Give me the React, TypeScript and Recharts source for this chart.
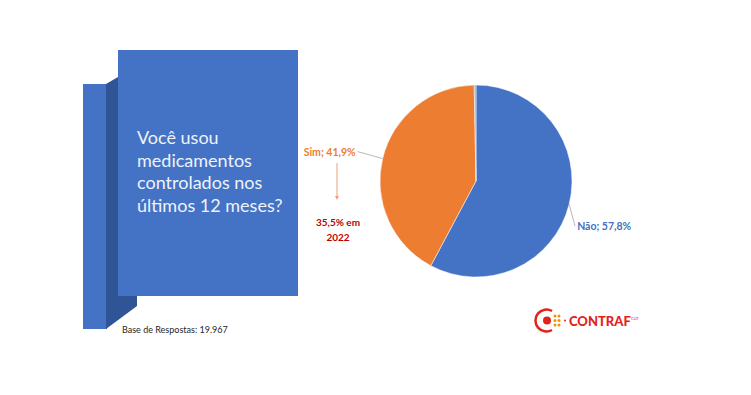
import { PieChart, Pie, Cell } from "recharts";

const categories = ["Não", "Sim", "Não sabe"];
const values = [57.8, 41.9, 0.3];
const colors = ["#4472C4", "#ED7D31", "#A5A5A5"];
const labelColors = ["#4472C4", "#ED7D31", "#A5A5A5"];
const titleLines = ["Você usou", "medicamentos", "controlados nos", "últimos 12 meses?"];
const note2022 = ["35,5% em", "2022"];
const baseText = "Base de Respostas: 19.967";

const data = categories.map((name, i) => ({ name, value: values[i] }));

const RAD = Math.PI / 180;
const fmt = (v: number) => v.toFixed(1).replace(".", ",") + "%";

const renderLabel = (props: any) => {
    const { cx, cy, midAngle, outerRadius, index } = props;
    if (index > 1) return null;
    const cos = Math.cos(-midAngle * RAD);
    const sin = Math.sin(-midAngle * RAD);
    const sx = cx + outerRadius * cos;
    const sy = cy + outerRadius * sin;
    let ex: number, ey: number, anchor: "start" | "end";
    if (index === 0) {
        ex = sx + 6;
        ey = sy + 22;
        anchor = "start";
    } else {
        ex = sx - 25;
        ey = sy - 7;
        anchor = "end";
    }
    const text = `${categories[index]}; ${fmt(values[index])}`;
    return (
        <g>
            <polyline points={`${sx},${sy} ${ex},${ey}`} stroke="#A6A6A6" strokeWidth={0.8} fill="none" />
            <text
                x={index === 0 ? ex + 2 : ex - 2}
                y={ey}
                textAnchor={anchor}
                dominantBaseline="central"
                fill={labelColors[index]}
                fontSize={10.5}
                fontWeight="bold"
                fontFamily="Lato, sans-serif"
            >
                {text}
            </text>
        </g>
    );
};

export default function App() {
    return (
        <div style={{ position: "absolute", left: 0, top: 0, width: 751, height: 395, background: "#fff", overflow: "hidden" }}>
            <svg width={751} height={395} style={{ position: "absolute", left: 0, top: 0 }}>
                {/* back panel */}
                <rect x={83} y={84} width={24} height={245} fill="#4472C4" />
                {/* side face */}
                <polygon points="106,84 118,77 118,296 137,296 137,306 106,329" fill="#2F5597" />
                {/* front panel */}
                <rect x={118} y={50} width={180} height={246} fill="#4472C4" />
                <text fontFamily="Lato, sans-serif" fontSize={18} fill="#EEF2FA">
                    {titleLines.map((l, i) => (
                        <tspan key={i} x={137} y={144 + i * 22.5}>{l}</tspan>
                    ))}
                </text>
                <text x={122} y={333} fontFamily="Lato, sans-serif" fontSize={9} fill="#262626">{baseText}</text>
                {/* arrow for 2022 note */}
                <line x1={337} y1={163} x2={337} y2={198} stroke="#E8A27A" strokeWidth={1} />
                <polygon points="335,196 339,196 337,200" fill="#E8A27A" />
                <text fontFamily="Lato, sans-serif" fontSize={10} fontWeight="bold" fill="#C00000" textAnchor="middle">
                    {note2022.map((l, i) => (
                        <tspan key={i} x={338} y={226 + i * 15}>{l}</tspan>
                    ))}
                </text>
                {/* logo */}
                <path d="M 552 311 A 11 11 0 1 0 552 330" stroke="#E2231A" strokeWidth={2.5} fill="none" />
                <circle cx={547} cy={320.5} r={4} fill="#E2231A" />
                <circle cx={555} cy={316} r={1.5} fill="#F39200" />
                <circle cx={559} cy={316} r={1.5} fill="#F39200" />
                <circle cx={555} cy={320.5} r={1.5} fill="#F39200" />
                <circle cx={559} cy={320.5} r={1.5} fill="#F39200" />
                <circle cx={555} cy={325} r={1.5} fill="#F39200" />
                <circle cx={559} cy={325} r={1.5} fill="#F39200" />
                <circle cx={565} cy={320.5} r={1} fill="#E2231A" />
                <text x={569} y={325.5} fontFamily="Lato, sans-serif" fontWeight="900" fontSize={13} fill="#E2231A">CONTRAF</text>
                <text x={631} y={320} fontFamily="Lato, sans-serif" fontSize={4} fill="#E2231A">CUT</text>
            </svg>
            <div style={{ position: "absolute", left: 0, top: 0 }}>
                <PieChart width={751} height={395} margin={{ top: 0, right: 0, bottom: 0, left: 0 }}>
                    <Pie
                        data={data}
                        dataKey="value"
                        nameKey="name"
                        cx={476}
                        cy={181}
                        outerRadius={96}
                        startAngle={90}
                        endAngle={-270}
                        stroke="#FFFFFF"
                        strokeWidth={0.5}
                        label={renderLabel}
                        labelLine={false}
                        isAnimationActive={false}
                    >
                        {data.map((d, i) => (
                            <Cell key={d.name} fill={colors[i]} />
                        ))}
                    </Pie>
                </PieChart>
            </div>
        </div>
    );
}
